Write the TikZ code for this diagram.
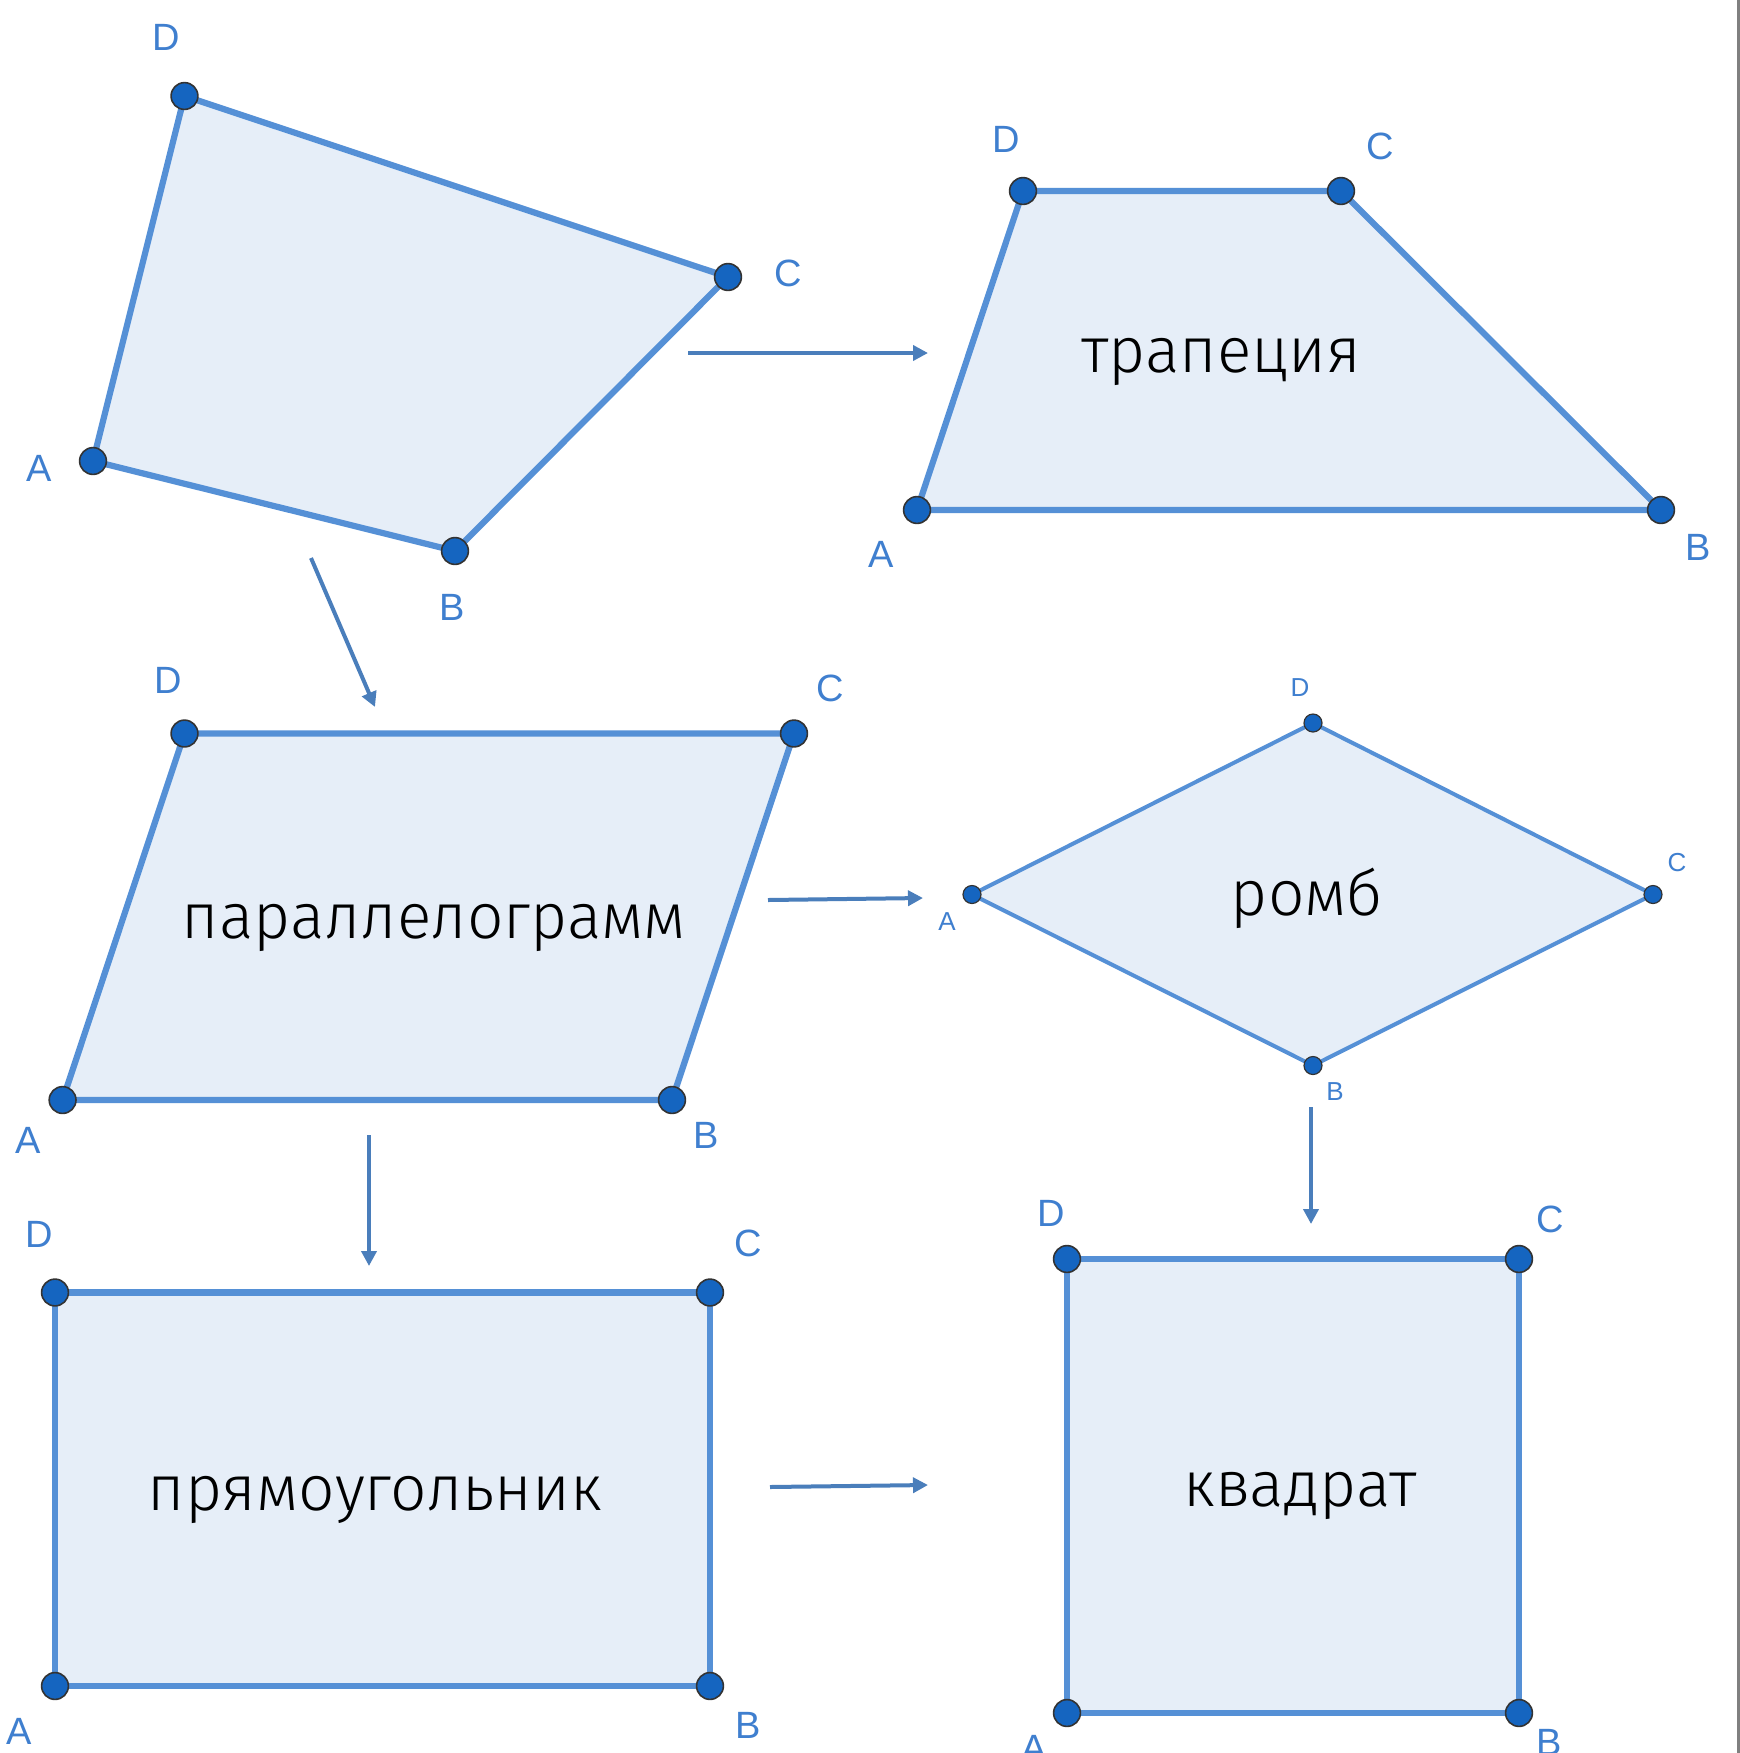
\documentclass[tikz,border=0pt]{standalone}
\usepackage{fontspec}
\setmainfont{Liberation Sans}
\newfontfamily\bigfont{Fira Sans Light}
\usetikzlibrary{arrows.meta}
\definecolor{edgec}{HTML}{5590D6}
\definecolor{fillc}{HTML}{E6EEF8}
\definecolor{ptc}{HTML}{1565C0}
\definecolor{arrc}{HTML}{4A7EBB}
\definecolor{labc}{HTML}{3F7FCF}
\begin{document}
\begin{tikzpicture}[x=0.5pt,y=-0.5pt,
 poly/.style={draw=edgec, fill=fillc, line width=3.1pt, line join=round},
 thinpoly/.style={draw=edgec, fill=fillc, line width=2pt, line join=round},
 pt/.style={circle, fill=ptc, draw=black!80, line width=0.8pt, minimum size=13.4pt, inner sep=0pt},
 smallpt/.style={pt, minimum size=9pt, line width=0.6pt},
 lbl/.style={text=labc, font=\fontsize{19}{19}\selectfont, inner sep=0pt},
 smalllbl/.style={text=labc, font=\fontsize{13}{13}\selectfont, inner sep=0pt},
 figname/.style={font=\bigfont\fontsize{32}{32}\selectfont, inner sep=0pt, anchor=base},
 conn/.style={draw=arrc, line width=2pt, -{Triangle[length=7.5pt,width=7.5pt]}}
]
\useasboundingbox (0,0) rectangle (1740,1753);
\fill[white] (0,0) rectangle (1740,1753);
\draw[black!50, line width=1.4pt] (1738.5,0) -- (1738.5,1753);

% ---------- quadrilateral ----------
\coordinate (q1A) at (93,461);
\coordinate (q1B) at (455,551);
\coordinate (q1C) at (728,277);
\coordinate (q1D) at (184.5,96);
\draw[poly] (q1A) -- (q1B) -- (q1C) -- (q1D) -- cycle;
\foreach \v in {A,B,C,D} \node[pt] (q1\v p) at (q1\v) {};
\node[lbl] (q1Al) at (39,468) {A};
\node[lbl] (q1Bl) at (452,607) {B};
\node[lbl] (q1Cl) at (788,273) {C};
\node[lbl] (q1Dl) at (166,37) {D};

% ---------- trapezoid ----------
\coordinate (trA) at (917,510);
\coordinate (trB) at (1661,510);
\coordinate (trC) at (1341,191);
\coordinate (trD) at (1023,191);
\draw[poly] (trA) -- (trB) -- (trC) -- (trD) -- cycle;
\foreach \v in {A,B,C,D} \node[pt] (tr\v p) at (tr\v) {};
\node[lbl] (trAl) at (881,554) {A};
\node[lbl] (trBl) at (1698,547) {B};
\node[lbl] (trCl) at (1380,146) {C};
\node[lbl] (trDl) at (1006,139) {D};
\node[figname] (trname) at (1221,372) {трапеция};

% ---------- parallelogram ----------
\coordinate (paA) at (62.6,1100);
\coordinate (paB) at (672,1100);
\coordinate (paC) at (794,733.5);
\coordinate (paD) at (184.5,733.5);
\draw[poly] (paA) -- (paB) -- (paC) -- (paD) -- cycle;
\foreach \v in {A,B,C,D} \node[pt] (pa\v p) at (pa\v) {};
\node[lbl] (paAl) at (28,1140) {A};
\node[lbl] (paBl) at (706,1135) {B};
\node[lbl] (paCl) at (830,688) {C};
\node[lbl] (paDl) at (168,680) {D};
\node[figname] (paname) at (434,938) {параллелограмм};

% ---------- rhombus ----------
\coordinate (rhA) at (972,894.5);
\coordinate (rhB) at (1313,1065.5);
\coordinate (rhC) at (1653,894.5);
\coordinate (rhD) at (1313,723);
\draw[thinpoly] (rhA) -- (rhB) -- (rhC) -- (rhD) -- cycle;
\foreach \v in {A,B,C,D} \node[smallpt] (rh\v p) at (rh\v) {};
\node[smalllbl] (rhAl) at (947,922) {A};
\node[smalllbl] (rhBl) at (1335,1092) {B};
\node[smalllbl] (rhCl) at (1677,863) {C};
\node[smalllbl] (rhDl) at (1300,688) {D};
\node[figname] (rhname) at (1307,915) {ромб};

% ---------- rectangle ----------
\coordinate (reA) at (55,1686);
\coordinate (reB) at (710,1686);
\coordinate (reC) at (710,1292.5);
\coordinate (reD) at (55,1292.5);
\draw[poly] (reA) -- (reB) -- (reC) -- (reD) -- cycle;
\foreach \v in {A,B,C,D} \node[pt] (re\v p) at (re\v) {};
\node[lbl] (reAl) at (19,1731) {A};
\node[lbl] (reBl) at (748,1725) {B};
\node[lbl] (reCl) at (748,1243) {C};
\node[lbl] (reDl) at (39,1234) {D};
\node[figname] (rename) at (375,1510) {прямоугольник};

% ---------- square ----------
\coordinate (sqA) at (1067,1713);
\coordinate (sqB) at (1519,1713);
\coordinate (sqC) at (1519,1259);
\coordinate (sqD) at (1067,1259);
\draw[poly] (sqA) -- (sqB) -- (sqC) -- (sqD) -- cycle;
\foreach \v in {A,B,C,D} \node[pt] (sq\v p) at (sq\v) {};
\node[lbl] (sqAl) at (1034,1748) {A};
\node[lbl] (sqBl) at (1549,1742) {B};
\node[lbl] (sqCl) at (1550,1219) {C};
\node[lbl] (sqDl) at (1051,1213) {D};
\node[figname] (sqname) at (1300,1506) {квадрат};

% ---------- connectors ----------
\coordinate (a1s) at (688,353);   \coordinate (a1e) at (928,353);
\coordinate (a2s) at (311,558);   \coordinate (a2e) at (375,707);
\coordinate (a3s) at (768,900);   \coordinate (a3e) at (923,898);
\coordinate (a4s) at (369,1135);  \coordinate (a4e) at (369,1266);
\coordinate (a5s) at (1311,1107); \coordinate (a5e) at (1311,1224);
\coordinate (a6s) at (770,1487);  \coordinate (a6e) at (928,1485);
\draw[conn] (a1s) -- (a1e);
\draw[conn] (a2s) -- (a2e);
\draw[conn] (a3s) -- (a3e);
\draw[conn] (a4s) -- (a4e);
\draw[conn] (a5s) -- (a5e);
\draw[conn] (a6s) -- (a6e);
\end{tikzpicture}
\end{document}
